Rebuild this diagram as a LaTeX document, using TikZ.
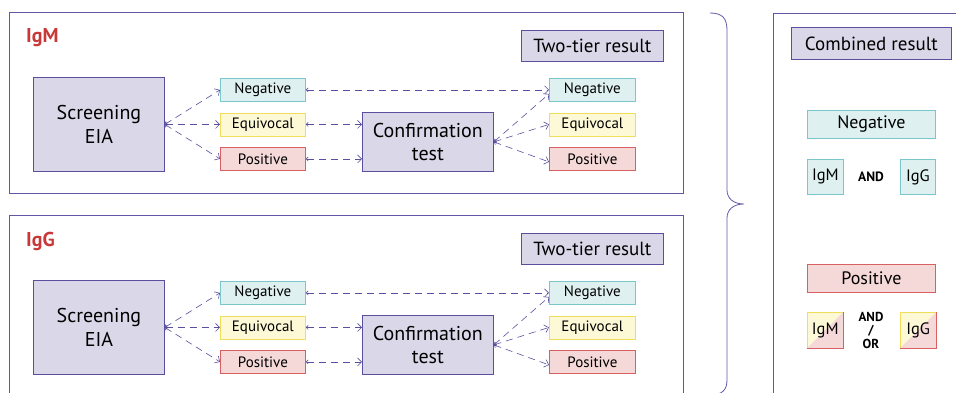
\documentclass[tikz,border=0pt]{standalone}
\usepackage{fontspec}
\setmainfont{PT Sans}
\usetikzlibrary{arrows.meta}
\definecolor{lineC}{RGB}{88,80,158}
\definecolor{frameC}{RGB}{96,88,164}
\definecolor{grayF}{RGB}{218,216,232}
\definecolor{negF}{RGB}{223,240,240}
\definecolor{negB}{RGB}{122,198,202}
\definecolor{equF}{RGB}{253,248,214}
\definecolor{equB}{RGB}{240,222,90}
\definecolor{posF}{RGB}{245,216,216}
\definecolor{posB}{RGB}{216,96,96}
\definecolor{labC}{RGB}{200,56,56}
\tikzset{
  frame/.style={draw=frameC, line width=0.8pt, inner sep=0pt},
  graybox/.style={draw=lineC, fill=grayF, line width=0.8pt, inner sep=0pt, align=center},
  negbox/.style={draw=negB, fill=negF, line width=0.8pt, inner sep=0pt},
  equbox/.style={draw=equB, fill=equF, line width=0.8pt, inner sep=0pt},
  posbox/.style={draw=posB, fill=posF, line width=0.8pt, inner sep=0pt},
  small/.style={minimum width=85pt, minimum height=23pt, font=\fontsize{15}{16}\selectfont},
  big/.style={font=\fontsize{20}{23.5}\selectfont},
  title/.style={font=\fontsize{19}{21}\selectfont},
  ablabel/.style={text=labC, font=\fontsize{20}{22}\selectfont\bfseries, inner sep=0pt},
  arr/.style={draw=lineC, line width=0.6pt, dash pattern=on 7pt off 5pt,
    {Straight Barb[length=2pt,width=4pt]}-{Straight Barb[length=4pt,width=8pt]}},
}
\newcommand\tierpanel[3]{%
  % #1 name prefix, #2 vertical offset, #3 antibody label
  \begin{scope}[shift={(0,#2)}]
    \node[frame, anchor=north west, minimum width=674pt, minimum height=181pt] (#1frame) at (9,12) {};
    \node[ablabel, anchor=west] (#1lab) at (26,38) {#3};
    \node[graybox, big, anchor=north west, minimum width=131pt, minimum height=94pt] (#1scr) at (33,77) {Screening\\EIA};
    \node[negbox, small, anchor=north west] (#1neg) at (220,78) {Negative};
    \node[equbox, small, anchor=north west] (#1equ) at (220,112.5) {Equivocal};
    \node[posbox, small, anchor=north west] (#1pos) at (220,147) {Positive};
    \node[graybox, big, anchor=north west, minimum width=131pt, minimum height=59pt] (#1conf) at (362,112) {Confirmation\\test};
    \node[graybox, title, anchor=north west, minimum width=142pt, minimum height=31pt] (#1two) at (521,30) {Two-tier result};
    \node[negbox, small, minimum width=86pt, anchor=north west] (#1rneg) at (549,78) {Negative};
    \node[equbox, small, minimum width=86pt, anchor=north west] (#1requ) at (549,112.5) {Equivocal};
    \node[posbox, small, minimum width=86pt, anchor=north west] (#1rpos) at (549,147) {Positive};
    % screening outcomes
    \draw[arr] (#1scr.east) -- (#1neg.west);
    \draw[arr] (#1scr.east) -- (#1equ.west);
    \draw[arr] (#1scr.east) -- (#1pos.west);
    % negative screens go straight to the result, the rest are confirmed
    \draw[arr] (#1neg.east) -- (#1rneg.west);
    \draw[arr] (#1equ.east) -- (#1conf.west |- #1equ.east);
    \draw[arr] (#1pos.east) -- (#1conf.west |- #1pos.east);
    % confirmation outcomes
    \draw[arr] (#1conf.east) -- ([yshift=-4pt]#1rneg.west);
    \draw[arr] (#1conf.east) -- (#1requ.west);
    \draw[arr] (#1conf.east) -- ([yshift=-3pt]#1rpos.west);
  \end{scope}}
\begin{document}
\begin{tikzpicture}[x=1pt, y=-1pt]
  \useasboundingbox (0,0) rectangle (956,392);
  \tierpanel{m}{0}{IgM}
  \tierpanel{g}{203}{IgG}
  % brace gathering both panels
  \draw[frameC, line width=0.8pt]
    (710,13) .. controls (722,13) and (727,18) .. (727,30)
    -- (727,190) .. controls (727,198) and (733,204) .. (744,204)
    .. controls (733,204) and (727,210) .. (727,218)
    -- (727,380) .. controls (727,390) and (722,395) .. (710,395);
  % combined result panel
  \node[frame, anchor=north west, minimum width=260pt, minimum height=420pt] (cframe) at (773,13) {};
  \node[graybox, title, anchor=north west, minimum width=160pt, minimum height=32pt] (ctitle) at (791,27) {Combined result};
  \node[negbox, font=\fontsize{18}{20}\selectfont, anchor=north west, minimum width=128pt, minimum height=28pt] (cneg) at (807,110) {Negative};
  \node[negbox, font=\fontsize{16.5}{18}\selectfont, anchor=north west, minimum width=36pt, minimum height=35pt] (cnegm) at (807,159) {IgM};
  \node[negbox, font=\fontsize{16.5}{18}\selectfont, anchor=north west, minimum width=35pt, minimum height=35pt] (cnegg) at (900,159) {IgG};
  \node[font=\fontsize{13.5}{14}\selectfont\bfseries] (cand) at (871,177) {AND};
  \node[posbox, font=\fontsize{18}{20}\selectfont, anchor=north west, minimum width=128pt, minimum height=28pt] (cpos) at (807,264) {Positive};
  \tikzset{split/.style={inner sep=0pt, font=\fontsize{16.5}{18}\selectfont,
      minimum width=36pt, minimum height=36pt,
      path picture={
        \fill[equF] (path picture bounding box.north west) -- (path picture bounding box.north east)
          -- (path picture bounding box.south west) -- cycle;
        \fill[posF] (path picture bounding box.north east) -- (path picture bounding box.south east)
          -- (path picture bounding box.south west) -- cycle;}}}
  \node[split, anchor=north west] (cposm) at (807,312) {IgM};
  \node[split, anchor=north west] (cposg) at (900,312) {IgG};
  \foreach \n in {cposm, cposg} {
    \draw[equB, line width=0.8pt] (\n.south west) -- (\n.north west) -- (\n.north east);
    \draw[posB, line width=0.8pt] (\n.north east) -- (\n.south east) -- (\n.south west);
  }
  \node[font=\fontsize{13}{13.5}\selectfont\bfseries, align=center] (candor) at (871,330) {AND\\/\\OR};
\end{tikzpicture}
\end{document}
